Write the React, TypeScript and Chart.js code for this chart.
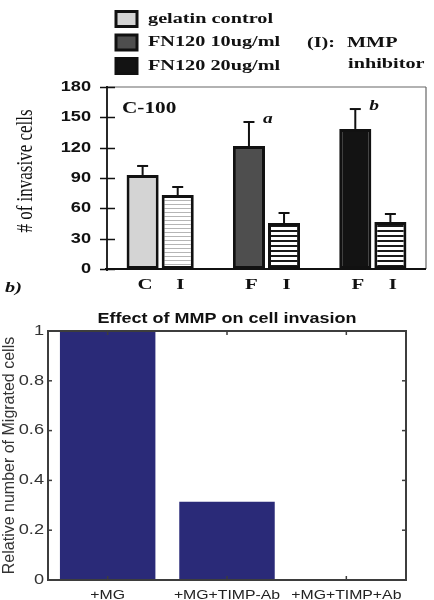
import React, { useEffect, useRef } from 'react';
import { Chart, registerables } from 'chart.js';

Chart.register(...registerables);

// ---------- Panel (top): C-100 invasion ----------
const TOP_GROUPS = ['Gelatin control', 'FN120 10ug/ml', 'FN120 20ug/ml'];
const TREATMENT_VALUES = [93, 121.6, 138.5];
const TREATMENT_ERR_TOP = [101.9, 145.4, 158.2];
const INHIBITOR_VALUES = [73.2, 45.5, 46.5];
const INHIBITOR_ERR_TOP = [81.1, 55.4, 54.4];
const TREATMENT_TICK_LABELS = ['C', 'F', 'F'];
const INHIBITOR_TICK_LABELS = ['I', 'I', 'I'];
const SIG_LETTERS = ['', 'a', 'b'];
const LEGEND_LABELS = ['gelatin control', 'FN120 10ug/ml', 'FN120 20ug/ml'];
const TOP_Y_TITLE = '# of invasive cells';

// ---------- Panel (bottom): MMP effect ----------
const MMP_CATEGORIES = ['+MG', '+MG+TIMP-Ab', '+MG+TIMP+Ab'];
const MMP_VALUES = [1, 0.314, 0];
const MMP_Y_TICK_LABELS = ['0', '0.2', '0.4', '0.6', '0.8', '1'];
const MMP_TITLE = 'Effect of MMP on cell invasion';
const MMP_Y_TITLE = 'Relative number of Migrated cells';

const SERIF = '"Liberation Serif", "Times New Roman", serif';
const SANS = '"Liberation Sans", Arial, sans-serif';
const TREATMENT_COLORS = ['#d4d4d4', '#4e4e4e', '#131313'];

function txt(ctx, s, x, y, font, o: any = {}) {
  ctx.save();
  ctx.translate(x, y);
  ctx.scale(o.sx ?? 1, o.sy ?? 1);
  if (o.rot) ctx.rotate(o.rot);
  ctx.font = font;
  ctx.textAlign = o.align ?? 'left';
  ctx.textBaseline = o.baseline ?? 'middle';
  ctx.fillStyle = o.color ?? '#111';
  ctx.fillText(s, 0, 0);
  ctx.restore();
}

function line(ctx, x1, y1, x2, y2) {
  ctx.beginPath();
  ctx.moveTo(x1, y1);
  ctx.lineTo(x2, y2);
  ctx.stroke();
}

function stripes(bg, fg, gap, lw) {
  const c = document.createElement('canvas');
  c.width = 8;
  c.height = gap;
  const x = c.getContext('2d');
  x.fillStyle = bg;
  x.fillRect(0, 0, 8, gap);
  x.fillStyle = fg;
  x.fillRect(0, 0, 8, lw);
  return x.createPattern(c, 'repeat');
}

const topDecor = {
  id: 'topDecor',
  afterDatasetsDraw(chart) {
    const ctx = chart.ctx;
    const { left, right, top, bottom } = chart.chartArea;
    const ys = chart.scales.y;
    ctx.save();
    ctx.lineCap = 'butt';
    // frame
    ctx.strokeStyle = '#666';
    ctx.lineWidth = 1.2;
    line(ctx, left, top, right, top);
    line(ctx, right, top, right, bottom);
    ctx.strokeStyle = '#111';
    ctx.lineWidth = 1.8;
    line(ctx, left, top - 1, left, bottom + 2);
    line(ctx, left - 2, bottom, right, bottom);
    // y ticks
    ctx.lineWidth = 1.5;
    ys.ticks.forEach((t) => {
      const py = Math.round(ys.getPixelForValue(t.value)) + 0.5;
      line(ctx, left - 7, py, left + 8, py);
      txt(ctx, String(t.value), 91, py, 'bold 14px ' + SANS, { sx: 1.3, align: 'right' });
    });
    // error bars
    const sets = [
      [0, TREATMENT_ERR_TOP, TREATMENT_TICK_LABELS],
      [1, INHIBITOR_ERR_TOP, INHIBITOR_TICK_LABELS],
    ];
    ctx.strokeStyle = '#111';
    ctx.lineWidth = 2;
    sets.forEach(([di, errs, labs]: any) => {
      const meta = chart.getDatasetMeta(di);
      meta.data.forEach((bar, j) => {
        const y1 = ys.getPixelForValue(errs[j]);
        line(ctx, bar.x, bar.y, bar.x, y1);
        line(ctx, bar.x - 5.5, y1, bar.x + 5.5, y1);
        txt(ctx, labs[j], bar.x + 2.5, bottom + 16, 'bold 15.5px ' + SERIF, { sx: 1.35, align: 'center' });
        if (di === 0 && SIG_LETTERS[j]) {
          txt(ctx, SIG_LETTERS[j], bar.x + 14, y1 + 1, 'italic bold 15px ' + SERIF, {
            sx: 1.3,
            baseline: 'alphabetic',
          });
        }
      });
    });
    // C-100
    txt(ctx, 'C-100', 122, 109, 'bold 16px ' + SERIF, { sx: 1.33 });
    // y title
    txt(ctx, TOP_Y_TITLE, 26, 171, '17px ' + SERIF, { sx: 1.4, rot: -Math.PI / 2, align: 'center' });
    // b)
    txt(ctx, 'b)', 5, 288, 'italic bold 15px ' + SERIF, { sx: 1.35 });
    // legend
    LEGEND_LABELS.forEach((lab, i) => {
      const cy = 19 + i * 23.5;
      ctx.fillStyle = TREATMENT_COLORS[i];
      ctx.fillRect(116, cy - 7.5, 21, 15);
      ctx.strokeStyle = '#111';
      ctx.lineWidth = 3;
      ctx.strokeRect(116, cy - 7.5, 21, 15);
      txt(ctx, lab, 148, cy, 'bold 15px ' + SERIF, { sx: 1.35 });
    });
    txt(ctx, '(I):', 307, 43, 'bold 15px ' + SERIF, { sx: 1.35 });
    txt(ctx, 'MMP', 347, 43, 'bold 15px ' + SERIF, { sx: 1.35 });
    txt(ctx, 'inhibitor', 348, 64, 'bold 15px ' + SERIF, { sx: 1.35 });
    ctx.restore();
  },
};

const bottomDecor = {
  id: 'bottomDecor',
  afterDatasetsDraw(chart) {
    const ctx = chart.ctx;
    const { left, right, top, bottom } = chart.chartArea;
    const ys = chart.scales.y;
    const xs = chart.scales.x;
    ctx.save();
    ctx.strokeStyle = '#3d3d3d';
    ctx.lineWidth = 2;
    ctx.strokeRect(left, top, right - left, bottom - top);
    ctx.lineWidth = 1.5;
    ys.ticks.forEach((t, i) => {
      const py = ys.getPixelForValue(t.value);
      line(ctx, left, py, left + 4, py);
      line(ctx, right - 4, py, right, py);
      txt(ctx, MMP_Y_TICK_LABELS[i], 44, py, '14px ' + SANS, { sx: 1.3, align: 'right', color: '#333' });
    });
    MMP_CATEGORIES.forEach((c, i) => {
      const px = xs.getPixelForValue(i);
      line(ctx, px, top, px, top + 4);
      line(ctx, px, bottom - 4, px, bottom);
      txt(ctx, c, px, 295, '13.5px ' + SANS, { sx: 1.17, align: 'center', color: '#222' });
    });
    txt(ctx, MMP_TITLE, (left + right) / 2, 19, 'bold 15px ' + SANS, { sx: 1.2, align: 'center', color: '#111' });
    txt(ctx, MMP_Y_TITLE, 9, (top + bottom) / 2, '16px ' + SANS, {
      sx: 1.05,
      rot: -Math.PI / 2,
      align: 'center',
      color: '#333',
    });
    ctx.restore();
  },
};

function TopChart() {
  const ref = useRef<HTMLCanvasElement>(null);
  useEffect(() => {
    const inhPatterns = [
      stripes('#ffffff', '#b5b5b5', 4, 1),
      stripes('#ffffff', '#1a1a1a', 5, 2),
      stripes('#ffffff', '#1a1a1a', 5, 2),
    ];
    const chart = new Chart(ref.current, {
      type: 'bar',
      data: {
        labels: TOP_GROUPS,
        datasets: [
          {
            label: 'Treatment',
            data: TREATMENT_VALUES,
            backgroundColor: TREATMENT_COLORS,
            borderColor: '#111',
            borderWidth: 3,
            borderSkipped: false,
            categoryPercentage: 0.66,
            barPercentage: 0.914,
          },
          {
            label: '(I): MMP inhibitor',
            data: INHIBITOR_VALUES,
            backgroundColor: inhPatterns as any,
            borderColor: '#111',
            borderWidth: 3,
            borderSkipped: false,
            categoryPercentage: 0.66,
            barPercentage: 0.914,
          },
        ],
      },
      options: {
        responsive: false,
        maintainAspectRatio: false,
        animation: false,
        layout: { padding: { top: 87, right: 8, left: 0, bottom: 0 } },
        plugins: { legend: { display: false }, tooltip: { enabled: false } },
        scales: {
          x: {
            ticks: { display: false },
            grid: { display: false },
            border: { display: false },
            afterFit: (s) => {
              s.height = 31;
            },
          },
          y: {
            min: 0,
            max: 180,
            ticks: { display: false, stepSize: 30 },
            grid: { display: false },
            border: { display: false },
            afterFit: (s) => {
              s.width = 107;
            },
          },
        },
      },
      plugins: [topDecor],
    });
    return () => chart.destroy();
  }, []);
  return <canvas ref={ref} width={434} height={300} style={{ display: 'block', width: 434, height: 300 }} />;
}

function BottomChart() {
  const ref = useRef<HTMLCanvasElement>(null);
  useEffect(() => {
    const chart = new Chart(ref.current, {
      type: 'bar',
      data: {
        labels: MMP_CATEGORIES,
        datasets: [
          {
            label: 'Relative number of Migrated cells',
            data: MMP_VALUES,
            backgroundColor: '#2a2a78',
            borderWidth: 0,
            categoryPercentage: 1,
            barPercentage: 0.8,
          },
        ],
      },
      options: {
        responsive: false,
        maintainAspectRatio: false,
        animation: false,
        layout: { padding: { top: 31, right: 28, left: 0, bottom: 0 } },
        plugins: { legend: { display: false }, tooltip: { enabled: false } },
        scales: {
          x: {
            ticks: { display: false },
            grid: { display: false },
            border: { display: false },
            afterFit: (s) => {
              s.height = 20;
            },
          },
          y: {
            min: 0,
            max: 1,
            ticks: { display: false, stepSize: 0.2 },
            grid: { display: false },
            border: { display: false },
            afterFit: (s) => {
              s.width = 48;
            },
          },
        },
      },
      plugins: [bottomDecor],
    });
    return () => chart.destroy();
  }, []);
  return <canvas ref={ref} width={434} height={300} style={{ display: 'block', width: 434, height: 300 }} />;
}

export default function App() {
  return (
    <div style={{ position: 'fixed', left: 0, top: 0, width: 434, height: 600, background: '#fff' }}>
      <TopChart />
      <BottomChart />
    </div>
  );
}
